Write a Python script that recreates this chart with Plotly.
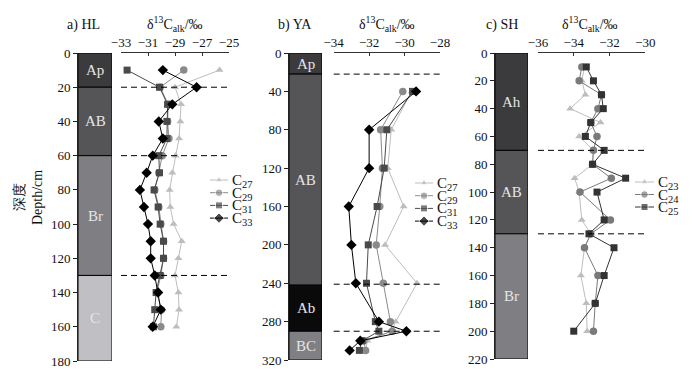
import plotly.graph_objects as go

W, H = 695, 377

# ---------------- data ----------------
# a) HL
HL_depth = [10, 20, 30, 40, 50, 60, 70, 80, 90, 100, 110, 120, 130, 140, 150, 160]
HL_C27 = [-25.7, -29.0, -28.55, -28.6, -28.7, -28.95, -29.2, -29.4, -29.35, -29.1, -28.5, -28.75, -29.0, -28.75, -28.7, -28.9]
HL_C29 = [-28.35, -30.1, -29.5, -29.55, -29.45, -29.95, -30.2, -30.5, -30.2, -30.05, -29.85, -29.85, -30.05, -30.35, -30.0, -30.05]
HL_C31 = [-32.55, -30.15, -29.55, -29.6, -29.6, -30.2, -30.15, -30.55, -30.25, -30.1, -29.85, -29.85, -30.1, -30.4, -30.5, -30.6]
HL_C33 = [-29.9, -27.4, -29.2, -30.2, -29.9, -30.65, -31.1, -31.6, -31.3, -31.0, -30.8, -30.8, -30.5, -30.25, -30.05, -30.65]
HL_horizons = ["Ap", "AB", "Br", "C"]
HL_tops = [0, 20, 60, 130]
HL_bottoms = [20, 60, 130, 180]
HL_boundaries = [20, 60, 130]
HL_ticks_x = [-33, -31, -29, -27, -25]
HL_ticks_y = list(range(0, 181, 20))

# b) YA
YA_depth = [40, 80, 120, 160, 200, 240, 280, 290, 300, 310]
YA_C27 = [-29.6, -30.75, -30.95, -30.05, -31.1, -29.3, -30.5, -30.75, -32.1, -32.2]
YA_C29 = [-30.1, -31.35, -31.25, -31.4, -31.6, -31.2, -30.8, -30.7, -32.3, -32.2]
YA_C31 = [-29.55, -31.0, -31.15, -31.55, -32.05, -32.15, -31.65, -31.45, -32.4, -32.55]
YA_C33 = [-29.35, -32.0, -32.0, -33.15, -33.0, -32.75, -31.45, -29.9, -32.5, -33.1]
YA_horizons = ["Ap", "AB", "Ab", "BC"]
YA_tops = [0, 22, 242, 290]
YA_bottoms = [22, 242, 290, 320]
YA_boundaries = [22, 241, 290]
YA_ticks_x = [-34, -32, -30, -28]
YA_ticks_y = list(range(0, 321, 40))

# c) SH
SH_depth = [10, 20, 30, 40, 50, 60, 70, 80, 90, 100, 120, 130, 140, 160, 180, 200]
SH_C23 = [-33.4, -33.55, -33.35, -34.2, -32.5, -33.7, -32.9, -32.95, -33.95, -33.7, -33.55, -33.05, -33.4, -33.6, -33.3, -33.25]
SH_C24 = [-33.55, -33.7, -32.45, -32.65, -33.05, -32.7, -32.9, -32.95, -31.9, -33.65, -31.95, -33.05, -33.4, -32.65, -32.8, -32.9]
SH_C25 = [-33.3, -32.9, -32.45, -32.35, -33.05, -33.35, -32.3, -32.95, -31.1, -32.7, -32.3, -33.15, -31.75, -32.3, -32.8, -34.0]
SH_horizons = ["Ah", "AB", "Br"]
SH_tops = [0, 70, 130]
SH_bottoms = [70, 130, 220]
SH_boundaries = [70, 130]
SH_ticks_x = [-36, -34, -32, -30]
SH_ticks_y = list(range(0, 221, 20))

# ---------------- styles ----------------
FONT = "Liberation Serif, Times New Roman, serif"
light = dict(color="#bdbdbd", symbol="triangle-up", size=7)
mid = dict(color="#8a8a8a", symbol="circle", size=7.5)
dark = dict(color="#4a4a4a", symbol="square", size=7)
black = dict(color="#000000", symbol="diamond", size=8)
horizon_colors = {"Ap": "#3b3a3d", "AB": "#555457", "Br": "#7f7e82", "C": "#c0bfc4",
                  "Ab": "#0a0a0a", "BC": "#807f83", "Ah": "#3b3a3d"}

panels = [
    dict(label="a) HL", label_x=83, title_x=175,
         depth=HL_depth, series=[("C<sub>27</sub>", HL_C27, light), ("C<sub>29</sub>", HL_C29, mid),
                                 ("C<sub>31</sub>", HL_C31, dark), ("C<sub>33</sub>", HL_C33, black)],
         horizons=HL_horizons, tops=HL_tops, bottoms=HL_bottoms, bounds=HL_boundaries,
         xr=[-33, -25], xt=HL_ticks_x, yr=[180, 0], yt=HL_ticks_y,
         col=(78, 112), data=(121, 229), ypx=(53, 361),
         leg_x=(210, 228), leg_y0=180, leg_dy=12.7),
    dict(label="b) YA", label_x=295, title_x=387,
         depth=YA_depth, series=[("C<sub>27</sub>", YA_C27, light), ("C<sub>29</sub>", YA_C29, mid),
                                 ("C<sub>31</sub>", YA_C31, dark), ("C<sub>33</sub>", YA_C33, black)],
         horizons=YA_horizons, tops=YA_tops, bottoms=YA_bottoms, bounds=YA_boundaries,
         xr=[-34, -28], xt=YA_ticks_x, yr=[320, 0], yt=YA_ticks_y,
         col=(289, 322), data=(333.7, 440), ypx=(53, 360),
         leg_x=(415, 433), leg_y0=183, leg_dy=12.7),
    dict(label="c) SH", label_x=502, title_x=590,
         depth=SH_depth, series=[("C<sub>23</sub>", SH_C23, light), ("C<sub>24</sub>", SH_C24, dict(mid, color="#7a7a7a")),
                                 ("C<sub>25</sub>", SH_C25, dict(dark, color="#333333"))],
         horizons=SH_horizons, tops=SH_tops, bottoms=SH_bottoms, bounds=SH_boundaries,
         xr=[-36, -30], xt=SH_ticks_x, yr=[220, 0], yt=SH_ticks_y,
         col=(495, 528), data=(538, 645.3), ypx=(53, 359),
         leg_x=(635, 654), leg_y0=182, leg_dy=12.5),
]


def fx(p):
    return p / W


def fy(p):
    return 1 - p / H


def xname(n):
    return "x" if n == 1 else f"x{n}"


def yname(n):
    return "y" if n == 1 else f"y{n}"


def xkey(n):
    return "xaxis" if n == 1 else f"xaxis{n}"


def ykey(n):
    return "yaxis" if n == 1 else f"yaxis{n}"


fig = go.Figure()
layout = {}
shapes = []
annotations = []

for i, p in enumerate(panels):
    xc, xd, xl = 3 * i + 1, 3 * i + 2, 3 * i + 3
    yd, yl = 2 * i + 1, 2 * i + 2

    # axes
    layout[xkey(xc)] = dict(domain=[fx(p["col"][0]), fx(p["col"][1])], range=[0, 1],
                            visible=False, anchor=yname(yd), fixedrange=True, automargin=False)
    layout[xkey(xd)] = dict(domain=[fx(p["data"][0]), fx(p["data"][1])], range=p["xr"],
                            side="top", anchor=yname(yd), tickvals=p["xt"],
                            ticks="inside", ticklen=3, tickcolor="#333",
                            showline=True, linecolor="#333", linewidth=1,
                            showgrid=False, zeroline=False, automargin=False,
                            tickfont=dict(family=FONT, size=13, color="#111"))
    layout[ykey(yd)] = dict(domain=[fy(p["ypx"][1]), fy(p["ypx"][0])], range=p["yr"],
                            anchor=xname(xc), side="left", tickvals=p["yt"],
                            ticks="outside", ticklen=4, tickcolor="#222",
                            showline=True, linecolor="#222", linewidth=1,
                            showgrid=False, zeroline=False, automargin=False,
                            tickfont=dict(family=FONT, size=13, color="#111"))
    n = len(p["series"])
    y_top = p["leg_y0"] - p["leg_dy"] / 2
    y_bot = y_top + n * p["leg_dy"]
    layout[xkey(xl)] = dict(domain=[fx(p["leg_x"][0]), fx(p["leg_x"][1])], range=[0, 1],
                            visible=False, anchor=yname(yl), automargin=False)
    layout[ykey(yl)] = dict(domain=[fy(y_bot), fy(y_top)], range=[n - 0.5, -0.5],
                            visible=False, anchor=xname(xl), automargin=False)

    # soil column
    for h, t, b in zip(p["horizons"], p["tops"], p["bottoms"]):
        fig.add_trace(go.Bar(x=[0.5], y=[b - t], base=[t], width=[1],
                             marker=dict(color=horizon_colors[h], line=dict(color="#000", width=1)),
                             xaxis=xname(xc), yaxis=yname(yd), showlegend=False, hoverinfo="skip"))
        annotations.append(dict(x=0.5, y=(t + b) / 2, xref=xname(xc), yref=yname(yd),
                                xanchor="center", yanchor="middle",
                                text=h, showarrow=False,
                                font=dict(family=FONT, size=15, color="#e6e6e6")))

    # boundaries
    for bd in p["bounds"]:
        shapes.append(dict(type="line", xref=f"{xname(xd)} domain", x0=0, x1=1,
                           yref=yname(yd), y0=bd, y1=bd,
                           line=dict(color="#000", width=1, dash="6px,4px")))

    # series
    for name, vals, st in p["series"]:
        fig.add_trace(go.Scatter(x=vals, y=p["depth"], mode="lines+markers",
                                 line=dict(color=st["color"], width=1),
                                 marker=dict(color=st["color"], symbol=st["symbol"], size=st["size"]),
                                 xaxis=xname(xd), yaxis=yname(yd), showlegend=False,
                                 cliponaxis=False, name=name))

    # custom legend
    for k, (name, vals, st) in enumerate(p["series"]):
        fig.add_trace(go.Scatter(x=[0, 0.5, 1], y=[k, k, k], mode="lines+markers",
                                 line=dict(color=st["color"], width=1),
                                 marker=dict(color=st["color"], symbol=st["symbol"],
                                             size=[0, st["size"], 0]),
                                 xaxis=xname(xl), yaxis=yname(yl), showlegend=False,
                                 cliponaxis=False, hoverinfo="skip"))
        annotations.append(dict(x=1, y=k, xref=xname(xl), yref=yname(yl), xanchor="left",
                                yanchor="middle", xshift=2, yshift=-1, text=name, showarrow=False,
                                font=dict(family=FONT, size=15, color="#111")))

    # titles
    annotations.append(dict(x=fx(p["label_x"]), y=fy(25), xref="paper", yref="paper",
                            xanchor="center", yanchor="middle",
                            text=p["label"], showarrow=False,
                            font=dict(family=FONT, size=14, color="#111")))
    annotations.append(dict(x=fx(p["title_x"]), y=fy(24), xref="paper", yref="paper",
                            xanchor="center", yanchor="middle",
                            text="δ<sup>13</sup>C<sub>alk</sub>/‰", showarrow=False,
                            font=dict(family=FONT, size=14, color="#111")))

annotations.append(dict(x=fx(29), y=fy(198), xref="paper", yref="paper",
                        xanchor="center", yanchor="middle",
                        text="深度<br>Depth/cm", textangle=-90, showarrow=False,
                        font=dict(family=FONT, size=14, color="#111")))

fig.update_layout(width=W, height=H, margin=dict(l=0, r=0, t=0, b=0, autoexpand=False),
                  template="none",
                  paper_bgcolor="white", plot_bgcolor="white",
                  showlegend=False, barmode="overlay",
                  shapes=shapes, annotations=annotations,
                  font=dict(family=FONT, size=13, color="#111"), **layout)

fig.write_html("out.html", config={"displayModeBar": False},
               post_script="document.body.style.margin='0px';")
